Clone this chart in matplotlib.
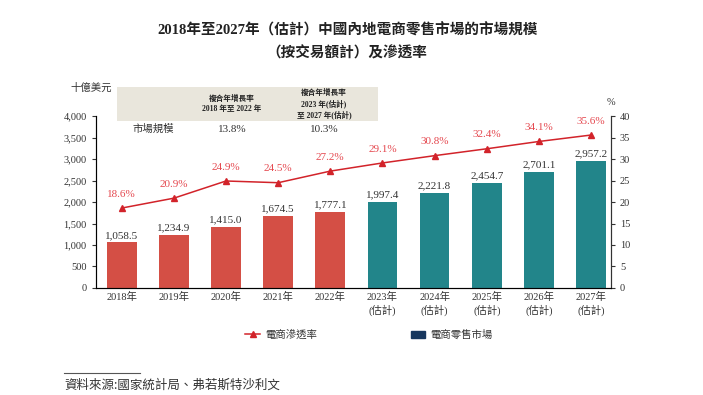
import matplotlib
matplotlib.use('Agg')
import matplotlib.pyplot as plt
from matplotlib.lines import Line2D
from matplotlib.patches import Rectangle

plt.rcParams['font.family'] = ['Liberation Serif', 'Noto Sans CJK TC', 'DejaVu Sans']

# data
years = ['2018年', '2019年', '2020年', '2021年', '2022年',
         '2023年\n(估計)', '2024年\n(估計)', '2025年\n(估計)',
         '2026年\n(估計)', '2027年\n(估計)']
market_size = [1058.5, 1234.9, 1415.0, 1674.5, 1777.1,
               1997.4, 2221.8, 2454.7, 2701.1, 2957.2]
penetration = [18.6, 20.9, 24.9, 24.5, 27.2, 29.1, 30.8, 32.4, 34.1, 35.6]
n_actual = 5
cagr_labels = ['複合年增長率\n2018 年至 2022 年',
               '複合年增長率\n2023 年(估計)\n至 2027 年(估計)']
cagr_values = ['13.8%', '10.3%']

red_bar = '#D44F45'
teal_bar = '#22858A'
line_red = '#D2232A'
label_red = '#E5484F'
navy = '#17375E'
text_dark = '#333333'
cjk = ['Noto Sans CJK TC', 'DejaVu Sans']

fig = plt.figure(figsize=(7.03, 3.95), dpi=100)
ax = fig.add_axes([0.136, 0.271, 0.733, 0.435])
ax2 = ax.twinx()

x = list(range(len(years)))
colors = [red_bar if i < n_actual else teal_bar for i in x]
bars = ax.bar(x, market_size, width=0.57, color=colors, zorder=2)
for xi, v in zip(x, market_size):
    ax.text(xi, v + 60, f'{v:,.1f}', ha='center', va='bottom',
            fontsize=8, color=text_dark)

ax.set_ylim(0, 4000)
ax.set_xlim(-0.5, 9.38)
ax.set_yticks(range(0, 4001, 500))
ax.set_yticklabels([f'{t:,}' for t in range(0, 4001, 500)])
ax.set_xticks(x)
ax.set_xticklabels(years, fontsize=7.5, color=text_dark, linespacing=1.3)
ax.tick_params(axis='y', labelsize=7.5, colors=text_dark, length=3)
ax.tick_params(axis='x', length=0, pad=3)
ax.spines['top'].set_visible(False)
for s in ['left', 'right', 'bottom']:
    ax.spines[s].set_color('#444444')

ax2.plot(x, penetration, color=line_red, lw=1.1, marker='^', ms=4.5, zorder=3)
for xi, v in zip(x, penetration):
    ax2.text(xi, v + 2.2, f'{v}%', ha='center', va='bottom',
             fontsize=8, color=label_red)
ax2.set_ylim(0, 40)
ax2.set_yticks(range(0, 41, 5))
ax2.tick_params(axis='y', labelsize=7.5, colors=text_dark, length=3)
ax2.spines['top'].set_visible(False)
ax2.spines['right'].set_color('#333333')

# units
fig.text(0.13, 0.777, '十億美元', fontsize=7.5, color=text_dark,
         ha='center', va='center', family=cjk)
fig.text(0.869, 0.74, '%', fontsize=7.5, color=text_dark,
         ha='center', va='center')

# CAGR header box
fig.patches.append(Rectangle((0.167, 0.694), 0.370, 0.085,
                             transform=fig.transFigure,
                             facecolor='#E9E6DC', edgecolor='none'))
for cx, lab, val in zip([0.330, 0.461], cagr_labels, cagr_values):
    fig.text(cx, 0.737, lab, fontsize=5.5, fontweight='bold',
             ha='center', va='center', color='#222222', linespacing=1.25)
    fig.text(cx, 0.673, val, fontsize=8, ha='center', va='center',
             color=text_dark)
fig.text(0.218, 0.673, '市場規模', fontsize=7.5, ha='center', va='center',
         color=text_dark, family=cjk)

# title
fig.text(0.494, 0.922, '2018年至2027年（估計）中國內地電商零售市場的市場規模',
         fontsize=10.5, fontweight='bold', ha='center', va='center',
         color='#222222')
fig.text(0.494, 0.866, '（按交易額計）及滲透率', fontsize=10.5,
         fontweight='bold', ha='center', va='center', color='#222222')

# legend
handles = [Line2D([0], [0], color=line_red, lw=1.1, marker='^', ms=4.5),
           Rectangle((0, 0), 1, 1, color=navy)]
leg = fig.legend(handles, ['電商滲透率', '電商零售市場'],
                 loc='center', bbox_to_anchor=(0.525, 0.152), ncol=2,
                 frameon=False, columnspacing=9.0, handlelength=1.4,
                 handletextpad=0.5, prop={'family': cjk, 'size': 7.5})
for t in leg.get_texts():
    t.set_color(text_dark)

# source
fig.add_artist(Line2D([0.091, 0.199], [0.055, 0.055], color='#555555',
                      lw=0.8, transform=fig.transFigure))
fig.text(0.091, 0.025, '資料來源:國家統計局、弗若斯特沙利文', fontsize=9,
         style='italic', ha='left', va='center', color=text_dark,
         family=cjk)

fig.savefig('out.png', dpi=100)
